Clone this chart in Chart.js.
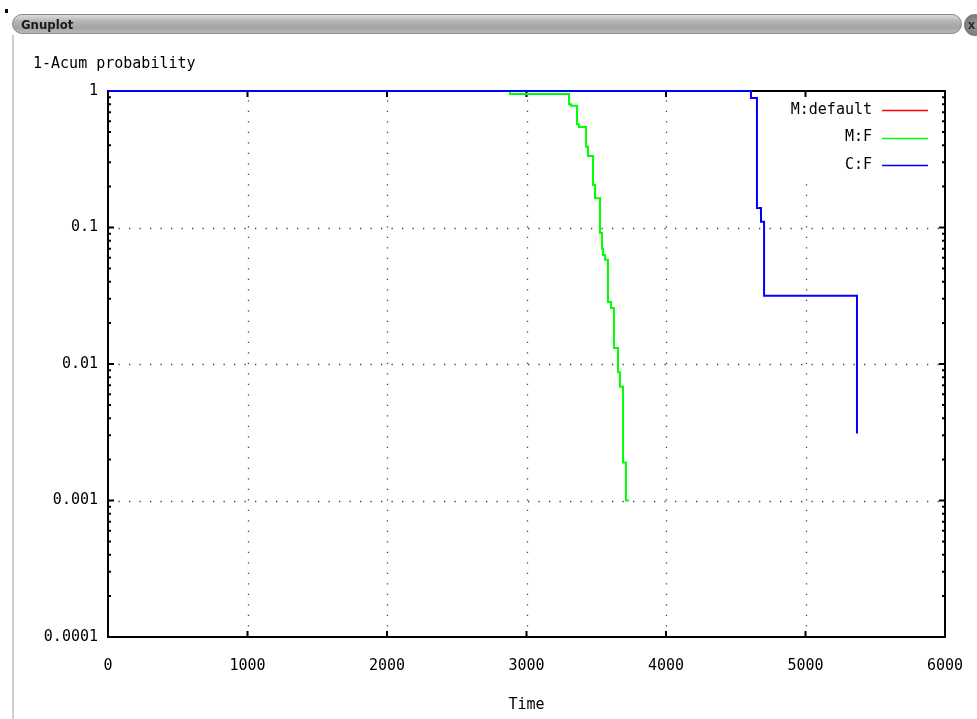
<!DOCTYPE html>
<html>
<head>
<meta charset="utf-8">
<script src="https://cdn.jsdelivr.net/npm/chart.js"></script>
<style>
  html, body { margin: 0; padding: 0; background: #fff; }
  #wrap { position: relative; width: 977px; height: 719px; overflow: hidden; }
  #bar { position: absolute; left: 12px; top: 14px; width: 950px; height: 20px;
         border-radius: 10px; border: 1px solid #8a8a8a;
         background: linear-gradient(#dcdcdc, #b4b4b4 35%, #a4a4a4 70%, #b8b8b8);
         font: bold 13px "DejaVu Sans Condensed", "DejaVu Sans", sans-serif; color: #1a1a1a;
         line-height: 20px; padding-left: 8px; box-sizing: border-box; }
  #close { position: absolute; left: 964px; top: 14px; width: 22px; height: 22px; border-radius: 11px;
           background: radial-gradient(#9a9a9a, #6a6a6a); color: #222; font: bold 13px sans-serif;
           line-height: 22px; text-indent: 4px; }
  #edge { position: absolute; left: 12px; top: 35px; width: 2px; height: 690px; background: #cfcfcf; }
  #dot { position: absolute; left: 5px; top: 9px; width: 3px; height: 4px; background: #000; }
  #chart-wrapper { position: absolute; left: 0; top: 0; width: 977px; height: 719px; }
</style>
</head>
<body>
<div id="wrap">
  <div id="chart-wrapper"><canvas id="my-chart" width="977" height="719"></canvas></div>
  <div id="edge"></div>
  <div id="bar">Gnuplot</div>
  <div id="close">x</div>
  <div id="dot"></div>
</div>
<script>
// data (steps: time of drop, new value)
var mDefaultTime = [];
var mDefaultProb = [];
var mfTime = [0, 2882, 3305, 3319, 3362, 3376, 3427, 3441, 3477, 3491, 3527, 3541, 3548, 3563, 3584, 3606, 3627, 3656, 3670, 3692, 3713, 3735];
var mfProb = [1, 0.95, 0.80, 0.78, 0.57, 0.545, 0.39, 0.334, 0.205, 0.164, 0.091, 0.070, 0.063, 0.058, 0.0284, 0.0257, 0.0131, 0.0087, 0.0068, 0.0019, 0.001, 0.001];
var cfTime = [0, 4609, 4652, 4681, 4703, 5369];
var cfProb = [1, 0.89, 0.139, 0.11, 0.0316, 0.0031];
var seriesNames = ['M:default', 'M:F', 'C:F'];
var seriesColors = ['#ff0000', '#00ff00', '#0000ff'];
var yTicks = [0.0001, 0.001, 0.01, 0.1, 1];
var xTicks = [0, 1000, 2000, 3000, 4000, 5000, 6000];
var yTitle = '1-Acum probability';
var xTitle = 'Time';

var FONT = '15px "DejaVu Sans Mono", monospace';

function pts(t, p) {
  var out = [];
  for (var i = 0; i < t.length; i++) out.push({x: t[i], y: p[i]});
  return out;
}

function minorValues() {
  var v = [];
  for (var d = 0; d < yTicks.length - 1; d++) {
    for (var k = 2; k <= 9; k++) v.push(yTicks[d] * k);
  }
  return v;
}

// legend box area (grid skips it)
var legendBox = {x1: 780, x2: 940, y1: 91, y2: 180};

var frame = {
  id: 'frame',
  beforeDatasetsDraw: function(chart) {
    var c = chart.ctx, a = chart.chartArea;
    var xs = chart.scales.x, ys = chart.scales.y;
    c.save();
    // dotted grid
    c.strokeStyle = '#444';
    c.lineWidth = 1.3;
    c.setLineDash([1.3, 9.2]);
    xTicks.slice(1, -1).forEach(function(v) {
      var px = Math.round(xs.getPixelForValue(v)) + 0.5;
      var top = (px > legendBox.x1 && px < legendBox.x2) ? legendBox.y2 : a.top;
      c.beginPath(); c.moveTo(px, a.bottom); c.lineTo(px, top); c.stroke();
    });
    yTicks.slice(1, -1).forEach(function(v) {
      var py = Math.round(ys.getPixelForValue(v)) + 0.5;
      c.beginPath(); c.moveTo(a.left, py); c.lineTo(a.right, py); c.stroke();
    });
    c.setLineDash([]);
    // ticks, inward
    c.strokeStyle = '#000';
    c.lineWidth = 2;
    c.beginPath();
    xTicks.forEach(function(v) {
      var px = xs.getPixelForValue(v);
      c.moveTo(px, a.bottom); c.lineTo(px, a.bottom - 6);
      c.moveTo(px, a.top); c.lineTo(px, a.top + 6);
    });
    yTicks.forEach(function(v) {
      var py = ys.getPixelForValue(v);
      c.moveTo(a.left, py); c.lineTo(a.left + 6, py);
      c.moveTo(a.right, py); c.lineTo(a.right - 6, py);
    });
    minorValues().forEach(function(v) {
      var py = ys.getPixelForValue(v);
      c.moveTo(a.left, py); c.lineTo(a.left + 3, py);
      c.moveTo(a.right, py); c.lineTo(a.right - 3, py);
    });
    c.stroke();
    // border
    c.lineWidth = 2;
    c.strokeRect(a.left, a.top, a.right - a.left, a.bottom - a.top);
    c.restore();
  },
  afterDraw: function(chart) {
    var c = chart.ctx, a = chart.chartArea;
    c.save();
    c.font = FONT;
    c.fillStyle = '#000';
    c.textBaseline = 'middle';
    c.textAlign = 'left';
    c.fillText(yTitle, 33, 64);
    c.textAlign = 'center';
    c.fillText(xTitle, (a.left + a.right) / 2, 705);
    // legend
    for (var i = 0; i < seriesNames.length; i++) {
      var y = 110 + i * 27.5;
      c.textAlign = 'right';
      c.fillStyle = '#000';
      c.fillText(seriesNames[i], 872, y);
      c.strokeStyle = seriesColors[i];
      c.lineWidth = 1.5;
      c.beginPath(); c.moveTo(882, Math.round(y) + 0.5); c.lineTo(928, Math.round(y) + 0.5); c.stroke();
    }
    c.restore();
  }
};

var ctx = document.getElementById('my-chart');
var chart = new Chart(ctx, {
  type: 'line',
  data: {
    datasets: [
      {label: seriesNames[0], data: pts(mDefaultTime, mDefaultProb), borderColor: seriesColors[0], order: 2},
      {label: seriesNames[1], data: pts(mfTime, mfProb), borderColor: seriesColors[1], order: 1},
      {label: seriesNames[2], data: pts(cfTime, cfProb), borderColor: seriesColors[2], order: 0}
    ]
  },
  options: {
    responsive: false,
    animation: false,
    devicePixelRatio: 1,
    layout: {padding: {top: 91, right: 32, left: 0, bottom: 0}},
    elements: {
      line: {stepped: 'before', borderWidth: 2, tension: 0},
      point: {radius: 0}
    },
    datasets: {line: {clip: false}},
    plugins: {legend: {display: false}, tooltip: {enabled: false}},
    scales: {
      x: {
        type: 'linear', min: 0, max: 6000,
        afterBuildTicks: function(s) { s.ticks = xTicks.map(function(v) { return {value: v}; }); },
        afterFit: function(s) { s.height = 719 - 637; s.paddingLeft = 0; s.paddingRight = 0; },
        grid: {display: false, drawTicks: false},
        border: {display: false},
        ticks: {color: '#000', font: {family: '"DejaVu Sans Mono", monospace', size: 15}, padding: 20, maxRotation: 0,
                callback: function(v) { return String(v); }}
      },
      y: {
        type: 'logarithmic', min: 0.0001, max: 1,
        afterBuildTicks: function(s) { s.ticks = yTicks.map(function(v) { return {value: v}; }); },
        afterFit: function(s) { s.width = 108; s.paddingTop = 0; s.paddingBottom = 0; },
        grid: {display: false, drawTicks: false},
        border: {display: false},
        ticks: {color: '#000', font: {family: '"DejaVu Sans Mono", monospace', size: 15}, padding: 10,
                callback: function(v) { return String(v); }}
      }
    }
  },
  plugins: [frame]
});
</script>
</body>
</html>
